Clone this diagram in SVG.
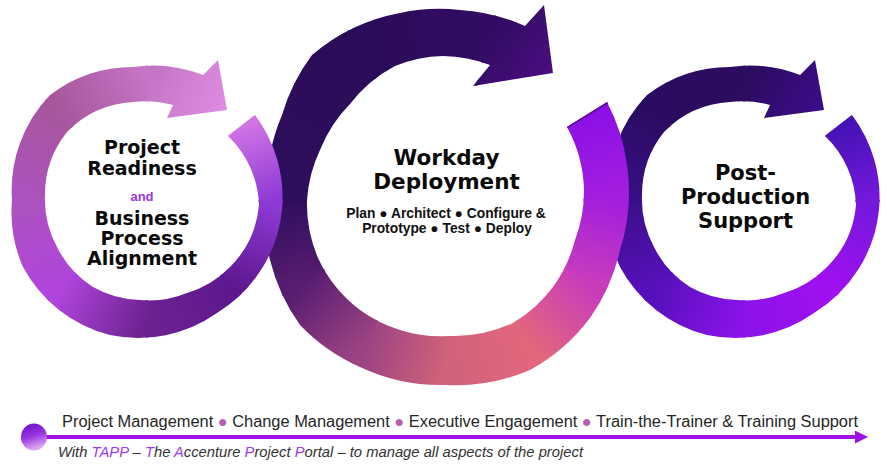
<svg xmlns="http://www.w3.org/2000/svg" width="887" height="464" viewBox="0 0 887 464">
<style>
.w{stroke-width:2}
.h{font-family:"DejaVu Sans","Liberation Sans",sans-serif;font-weight:bold;fill:#0a0a0a;text-anchor:middle}
.s{font-family:"Liberation Sans",Arial,sans-serif;font-weight:bold;fill:#111;text-anchor:middle;font-size:13.8px}
.b1{font-family:"Liberation Sans",Arial,sans-serif;font-size:16px;fill:#262626}
.b2{font-family:"Liberation Sans",Arial,sans-serif;font-size:14.5px;font-style:italic;fill:#333}
.p{fill:#9b3ae6}
.dot{fill:#b65fb2}
</style>
<defs>
<path id="smallShape" d="M255,115 A137,137 0 0 1 282,210 A137,137 0 0 1 217,313 A137,137 0 0 1 110,335 A137,137 0 0 1 23,267 A137,137 0 0 1 12,200 A137,137 0 0 1 50,95 A137,137 0 0 1 133,67 A137,137 0 0 1 203,75 L218,60 L227,110 L167,118 L173,105 A100,100 0 0 0 133,102 A100,100 0 0 0 67,132 A100,100 0 0 0 45,195 A100,100 0 0 0 57,247 A100,100 0 0 0 93,287 A100,100 0 0 0 140,300 A100,100 0 0 0 187,293 A100,100 0 0 0 230,267 A100,100 0 0 0 259,205 A100,100 0 0 0 228,136 Z"/>
<clipPath id="clipSmall"><use href="#smallShape"/></clipPath>
<clipPath id="clipMid"><path d="M607,102 A188,188 0 0 1 627,165 A188,188 0 0 1 620,250 A188,188 0 0 1 590,318 A188,188 0 0 1 530,370 A188,188 0 0 1 446,385 A188,188 0 0 1 360,367 A188,188 0 0 1 300,325 A188,188 0 0 1 270,260 A188,188 0 0 1 267,190 A188,188 0 0 1 282,115 A188,188 0 0 1 312,55 A188,188 0 0 1 400,13 A188,188 0 0 1 460,10 A188,188 0 0 1 525,26 L544,5 L553,73 L473,86 L490,65 A138,138 0 0 0 443,56 A138,138 0 0 0 395,66 A138,138 0 0 0 350,104 A138,138 0 0 0 320,150 A138,138 0 0 0 307,200 A138,138 0 0 0 318,258 A138,138 0 0 0 360,310 A138,138 0 0 0 400,330 A138,138 0 0 0 450,336 A138,138 0 0 0 513,323 A138,138 0 0 0 553,287 A138,138 0 0 0 575,240 A138,138 0 0 0 584,190 A138,138 0 0 0 567,127 Z"/></clipPath>
<linearGradient id="gL1" gradientUnits="userSpaceOnUse" x1="238.7" y1="126.7" x2="265" y2="201"><stop offset="0" stop-color="#d274e6"/><stop offset="1" stop-color="#8e3ad6"/></linearGradient>
<linearGradient id="gL2" gradientUnits="userSpaceOnUse" x1="265" y1="201" x2="230.4" y2="284.4"><stop offset="0" stop-color="#8e3ad6"/><stop offset="1" stop-color="#5e178e"/></linearGradient>
<linearGradient id="gL3" gradientUnits="userSpaceOnUse" x1="230.4" y1="284.4" x2="147" y2="319"><stop offset="0" stop-color="#5e178e"/><stop offset="1" stop-color="#6c2290"/></linearGradient>
<linearGradient id="gL4" gradientUnits="userSpaceOnUse" x1="147" y1="319" x2="63.6" y2="284.4"><stop offset="0" stop-color="#6c2290"/><stop offset="1" stop-color="#b044dc"/></linearGradient>
<linearGradient id="gL5" gradientUnits="userSpaceOnUse" x1="63.6" y1="284.4" x2="29" y2="201"><stop offset="0" stop-color="#b044dc"/><stop offset="1" stop-color="#ac52c0"/></linearGradient>
<linearGradient id="gL6" gradientUnits="userSpaceOnUse" x1="29" y1="201" x2="63.6" y2="117.6"><stop offset="0" stop-color="#ac52c0"/><stop offset="1" stop-color="#a8569e"/></linearGradient>
<linearGradient id="gL7" gradientUnits="userSpaceOnUse" x1="63.6" y1="117.6" x2="147" y2="83"><stop offset="0" stop-color="#a8569e"/><stop offset="1" stop-color="#c474c4"/></linearGradient>
<linearGradient id="gL8" gradientUnits="userSpaceOnUse" x1="147" y1="83" x2="238.7" y2="126.7"><stop offset="0" stop-color="#c474c4"/><stop offset="1" stop-color="#e592ea"/></linearGradient>
<linearGradient id="gR1" gradientUnits="userSpaceOnUse" x1="238.7" y1="126.7" x2="265" y2="201"><stop offset="0" stop-color="#4412b4"/><stop offset="1" stop-color="#7418dc"/></linearGradient>
<linearGradient id="gR2" gradientUnits="userSpaceOnUse" x1="265" y1="201" x2="230.4" y2="284.4"><stop offset="0" stop-color="#7418dc"/><stop offset="1" stop-color="#a010f0"/></linearGradient>
<linearGradient id="gR3" gradientUnits="userSpaceOnUse" x1="230.4" y1="284.4" x2="147" y2="319"><stop offset="0" stop-color="#a010f0"/><stop offset="1" stop-color="#8c12ea"/></linearGradient>
<linearGradient id="gR4" gradientUnits="userSpaceOnUse" x1="147" y1="319" x2="63.6" y2="284.4"><stop offset="0" stop-color="#8c12ea"/><stop offset="1" stop-color="#5810bc"/></linearGradient>
<linearGradient id="gR5" gradientUnits="userSpaceOnUse" x1="63.6" y1="284.4" x2="29" y2="201"><stop offset="0" stop-color="#5810bc"/><stop offset="1" stop-color="#3a0e88"/></linearGradient>
<linearGradient id="gR6" gradientUnits="userSpaceOnUse" x1="29" y1="201" x2="63.6" y2="117.6"><stop offset="0" stop-color="#3a0e88"/><stop offset="1" stop-color="#2a0c62"/></linearGradient>
<linearGradient id="gR7" gradientUnits="userSpaceOnUse" x1="63.6" y1="117.6" x2="147" y2="83"><stop offset="0" stop-color="#2a0c62"/><stop offset="1" stop-color="#2c0c5e"/></linearGradient>
<linearGradient id="gR8" gradientUnits="userSpaceOnUse" x1="147" y1="83" x2="238.7" y2="126.7"><stop offset="0" stop-color="#2c0c5e"/><stop offset="1" stop-color="#400c96"/></linearGradient>
<linearGradient id="gM1" gradientUnits="userSpaceOnUse" x1="584.9" y1="116.6" x2="608" y2="200"><stop offset="0" stop-color="#8c10e6"/><stop offset="1" stop-color="#a41ede"/></linearGradient>
<linearGradient id="gM2" gradientUnits="userSpaceOnUse" x1="608" y1="200" x2="586.3" y2="281"><stop offset="0" stop-color="#a41ede"/><stop offset="1" stop-color="#c83cbc"/></linearGradient>
<linearGradient id="gM3" gradientUnits="userSpaceOnUse" x1="586.3" y1="281" x2="527" y2="340.3"><stop offset="0" stop-color="#c83cbc"/><stop offset="1" stop-color="#e2667c"/></linearGradient>
<linearGradient id="gM4" gradientUnits="userSpaceOnUse" x1="527" y1="340.3" x2="446" y2="362"><stop offset="0" stop-color="#e2667c"/><stop offset="1" stop-color="#d0627a"/></linearGradient>
<linearGradient id="gM5" gradientUnits="userSpaceOnUse" x1="446" y1="362" x2="365" y2="340.3"><stop offset="0" stop-color="#d0627a"/><stop offset="1" stop-color="#9a4282"/></linearGradient>
<linearGradient id="gM6" gradientUnits="userSpaceOnUse" x1="365" y1="340.3" x2="305.7" y2="281"><stop offset="0" stop-color="#9a4282"/><stop offset="1" stop-color="#581c70"/></linearGradient>
<linearGradient id="gM7" gradientUnits="userSpaceOnUse" x1="305.7" y1="281" x2="284" y2="200"><stop offset="0" stop-color="#581c70"/><stop offset="1" stop-color="#2e0e5e"/></linearGradient>
<linearGradient id="gM8" gradientUnits="userSpaceOnUse" x1="284" y1="200" x2="365" y2="59.7"><stop offset="0" stop-color="#2e0e5e"/><stop offset="1" stop-color="#2a0c58"/></linearGradient>
<linearGradient id="gM9" gradientUnits="userSpaceOnUse" x1="365" y1="59.7" x2="487.9" y2="43.5"><stop offset="0" stop-color="#2a0c58"/><stop offset="1" stop-color="#320c64"/></linearGradient>
<linearGradient id="gM10" gradientUnits="userSpaceOnUse" x1="487.9" y1="43.5" x2="584.9" y2="116.6"><stop offset="0" stop-color="#320c64"/><stop offset="1" stop-color="#5e0e96"/></linearGradient>
<linearGradient id="gDot" x1="0" y1="0" x2="0.3" y2="1"><stop offset="0" stop-color="#6a0cc0"/><stop offset="0.55" stop-color="#9a34e0"/><stop offset="1" stop-color="#dca8f2"/></linearGradient>
</defs>
<rect width="887" height="464" fill="#fff"/>

<g id="node-post-production">
<g transform="translate(597,0)"><g clip-path="url(#clipSmall)">
<path class="w" fill="url(#gR1)" stroke="url(#gR1)" d="M147,201 L325.7,56.3 L377,201 Z"/>
<path class="w" fill="url(#gR2)" stroke="url(#gR2)" d="M147,201 L377,201 L309.6,363.6 Z"/>
<path class="w" fill="url(#gR3)" stroke="url(#gR3)" d="M147,201 L309.6,363.6 L147,431 Z"/>
<path class="w" fill="url(#gR4)" stroke="url(#gR4)" d="M147,201 L147,431 L-15.6,363.6 Z"/>
<path class="w" fill="url(#gR5)" stroke="url(#gR5)" d="M147,201 L-15.6,363.6 L-83,201 Z"/>
<path class="w" fill="url(#gR6)" stroke="url(#gR6)" d="M147,201 L-83,201 L-15.6,38.4 Z"/>
<path class="w" fill="url(#gR7)" stroke="url(#gR7)" d="M147,201 L-15.6,38.4 L147,-29 Z"/>
<path class="w" fill="url(#gR8)" stroke="url(#gR8)" d="M147,201 L147,-29 L325.7,56.3 Z"/>
</g></g>
<text class="h" font-size="21" x="745.5" y="180">Post-</text>
<text class="h" font-size="21" x="745.5" y="204">Production</text>
<text class="h" font-size="21" x="745.5" y="228">Support</text>
</g>

<g id="node-workday-deployment">
<g clip-path="url(#clipMid)">
<path class="w" fill="url(#gM1)" stroke="url(#gM1)" d="M446,200 L651.7,76.4 L686,200 Z"/>
<path class="w" fill="url(#gM2)" stroke="url(#gM2)" d="M446,200 L686,200 L653.8,320 Z"/>
<path class="w" fill="url(#gM3)" stroke="url(#gM3)" d="M446,200 L653.8,320 L566,407.8 Z"/>
<path class="w" fill="url(#gM4)" stroke="url(#gM4)" d="M446,200 L566,407.8 L446,440 Z"/>
<path class="w" fill="url(#gM5)" stroke="url(#gM5)" d="M446,200 L446,440 L326,407.8 Z"/>
<path class="w" fill="url(#gM6)" stroke="url(#gM6)" d="M446,200 L326,407.8 L238.2,320 Z"/>
<path class="w" fill="url(#gM7)" stroke="url(#gM7)" d="M446,200 L238.2,320 L206,200 Z"/>
<path class="w" fill="url(#gM8)" stroke="url(#gM8)" d="M446,200 L206,200 L326,-7.8 Z"/>
<path class="w" fill="url(#gM9)" stroke="url(#gM9)" d="M446,200 L326,-7.8 L508.1,-31.8 Z"/>
<path class="w" fill="url(#gM10)" stroke="url(#gM10)" d="M446,200 L508.1,-31.8 L651.7,76.4 Z"/>
</g>
<text class="h" font-size="21.5" x="446.5" y="164.5">Workday</text>
<text class="h" font-size="21.5" x="446.5" y="189">Deployment</text>
<text class="s" x="446" y="218">Plan ● Architect ● Configure &amp;</text>
<text class="s" x="447" y="233">Prototype ● Test ● Deploy</text>
</g>

<g id="node-project-readiness">
<g clip-path="url(#clipSmall)">
<path class="w" fill="url(#gL1)" stroke="url(#gL1)" d="M147,201 L325.7,56.3 L377,201 Z"/>
<path class="w" fill="url(#gL2)" stroke="url(#gL2)" d="M147,201 L377,201 L309.6,363.6 Z"/>
<path class="w" fill="url(#gL3)" stroke="url(#gL3)" d="M147,201 L309.6,363.6 L147,431 Z"/>
<path class="w" fill="url(#gL4)" stroke="url(#gL4)" d="M147,201 L147,431 L-15.6,363.6 Z"/>
<path class="w" fill="url(#gL5)" stroke="url(#gL5)" d="M147,201 L-15.6,363.6 L-83,201 Z"/>
<path class="w" fill="url(#gL6)" stroke="url(#gL6)" d="M147,201 L-83,201 L-15.6,38.4 Z"/>
<path class="w" fill="url(#gL7)" stroke="url(#gL7)" d="M147,201 L-15.6,38.4 L147,-29 Z"/>
<path class="w" fill="url(#gL8)" stroke="url(#gL8)" d="M147,201 L147,-29 L325.7,56.3 Z"/>
</g>
<text class="h" font-size="19" x="142" y="153.5">Project</text>
<text class="h" font-size="19" x="142" y="175">Readiness</text>
<text x="142" y="201" font-family="Liberation Sans, Arial, sans-serif" font-weight="bold" font-size="13" fill="#9a36e4" text-anchor="middle">and</text>
<text class="h" font-size="19" x="142" y="225">Business</text>
<text class="h" font-size="19" x="142" y="245">Process</text>
<text class="h" font-size="19" x="142" y="265">Alignment</text>
</g>

<g id="connectors">
<line x1="34" y1="437" x2="857" y2="437" stroke="#9b14e4" stroke-width="4"/>
<polygon points="855,430.5 868,437 855,443.5" fill="#9b14e4"/>
<ellipse cx="34" cy="437" rx="13" ry="13.5" fill="url(#gDot)"/>
</g>

<g id="labels">
<text class="b1" x="62" y="427" textLength="796" lengthAdjust="spacingAndGlyphs">Project Management <tspan class="dot">●</tspan> Change Management <tspan class="dot">●</tspan> Executive Engagement <tspan class="dot">●</tspan> Train-the-Trainer &amp; Training Support</text>
<text class="b2" x="58" y="457" textLength="525" lengthAdjust="spacingAndGlyphs">With <tspan class="p">TAPP</tspan> – <tspan class="p">T</tspan>he <tspan class="p">A</tspan>ccenture <tspan class="p">P</tspan>roject <tspan class="p">P</tspan>ortal – to manage all aspects of the project</text>
</g>
</svg>
